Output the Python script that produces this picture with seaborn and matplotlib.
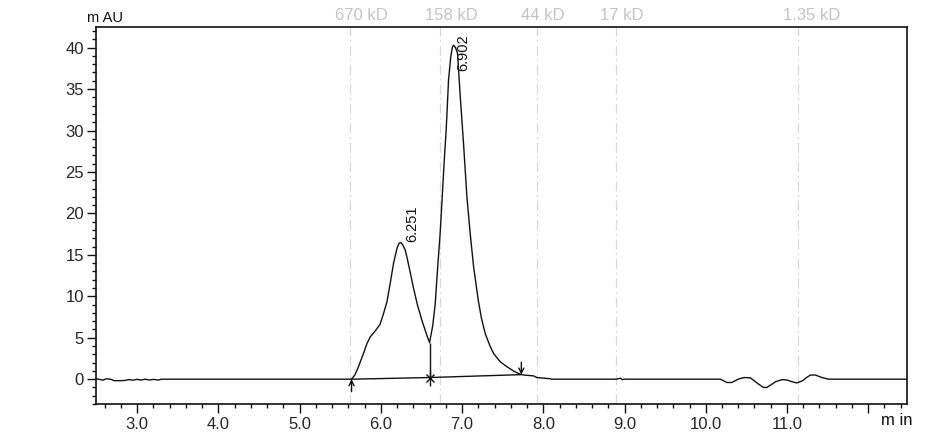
import numpy as np
import pandas as pd
import seaborn as sns
import matplotlib.pyplot as plt
from matplotlib.ticker import MultipleLocator
import matplotlib.transforms as mtransforms

# Cromatograma (tempo em min, sinal em mAU)
tempo = [2.50, 2.58, 2.62, 2.68, 2.72, 2.80, 2.85, 2.90, 2.95, 3.00, 3.05, 3.10,
         3.15, 3.20, 3.26, 3.30, 4.00, 5.00, 5.55, 5.64, 5.68, 5.725, 5.76, 5.79,
         5.83, 5.87, 5.93, 5.99, 6.03, 6.075, 6.12, 6.157, 6.20, 6.225, 6.245,
         6.27, 6.30, 6.32, 6.36, 6.40, 6.45, 6.506, 6.56, 6.60, 6.64, 6.67, 6.70,
         6.73, 6.748, 6.765, 6.785, 6.805, 6.834, 6.86, 6.88, 6.895, 6.92, 6.945,
         6.978, 7.018, 7.06, 7.10, 7.142, 7.20, 7.24, 7.286, 7.34, 7.388, 7.47,
         7.553, 7.64, 7.717, 7.76, 7.88, 7.92, 8.09, 8.10, 8.90, 8.95, 8.97, 9.00,
         10.18, 10.26, 10.32, 10.40, 10.47, 10.55, 10.63, 10.71, 10.75, 10.80,
         10.86, 10.94, 11.00, 11.06, 11.12, 11.19, 11.24, 11.29, 11.35, 11.43,
         11.51, 12.50]
sinal = [0.05, -0.12, 0.05, -0.02, -0.18, -0.18, -0.15, -0.05, -0.12, -0.02, -0.1, 0.0,
         -0.1, -0.02, -0.1, 0.0, 0.0, 0.0, 0.0, 0.0, 0.5, 1.5, 2.4, 3.2,
         4.3, 5.1, 5.8, 6.6, 7.8, 9.3, 11.8, 14.0, 15.8, 16.4, 16.5,
         16.2, 15.6, 14.8, 13.0, 11.1, 9.0, 7.1, 5.5, 4.4, 6.5, 9.1, 13.5,
         17.5, 20.6, 23.6, 27.0, 30.1, 36.1, 38.8, 40.0, 40.3, 40.0, 39.3,
         34.1, 28.5, 22.0, 17.6, 13.6, 9.5, 7.3, 5.5, 4.1, 3.1, 2.1,
         1.5, 0.95, 0.6, 0.5, 0.4, 0.2, 0.05, 0.0, 0.0, 0.12, -0.05, 0.0,
         0.0, -0.4, -0.4, 0.0, 0.2, 0.16, -0.45, -1.0, -1.0, -0.7,
         -0.3, -0.05, -0.1, -0.3, -0.45, -0.2, 0.2, 0.5, 0.5, 0.2,
         0.0, 0.0]

# Linha de base da integração
base_t = [5.64, 6.60, 7.73]
base_y = [0.0, 0.2, 0.55]

# Picos identificados
picos_t = [6.251, 6.902]
picos_rotulo = ['6.251', '6.902']
rotulo_x = [6.383, 7.015]
rotulo_y = [16.6, 37.2]

# Padrões de massa molecular
padroes_t = [5.62, 6.73, 7.92, 8.89, 11.14]
padroes_rotulo = ['670 kD', '158 kD', '44 kD', '17 kD', '1.35 kD']

dados = pd.DataFrame({'tempo': tempo, 'sinal': sinal})

sns.set_style('ticks')
plt.rcParams['font.family'] = ['Liberation Sans', 'DejaVu Sans']

fig = plt.figure(figsize=(9.47, 4.34), dpi=100)
ax = fig.add_axes([0.101, 0.069, 0.857, 0.869])

# Linhas dos padrões
for t, r in zip(padroes_t, padroes_rotulo):
    ax.axvline(t, color='#d9d9d9', lw=0.9, ls=(0, (8, 3, 1.5, 3)), zorder=0)
    ax.annotate(r, xy=(t, 1.0), xycoords=('data', 'axes fraction'),
                xytext=(-11, 3), textcoords='offset points',
                ha='left', va='bottom', fontsize=12, color='#c4c4c4')

sns.lineplot(data=dados, x='tempo', y='sinal', color='#111111', lw=1.0,
             ax=ax, sort=False, estimator=None)
sns.lineplot(x=base_t, y=base_y, color='#111111', lw=1.0, ax=ax,
             sort=False, estimator=None)

# Linha de queda no vale
vale = np.interp(base_t[1], tempo, sinal)
ax.vlines(base_t[1], base_y[1], vale, color='#111111', lw=1.0)
ax.plot([base_t[1]], [base_y[1]], marker='|', ms=12, mew=1.0, color='#111111')
ax.plot([base_t[1]], [base_y[1]], marker='x', ms=6, mew=1.0, color='#111111')

# Marcas de início e fim
ax.annotate('', xy=(base_t[0], base_y[0]), xytext=(0, -9), textcoords='offset points',
            arrowprops=dict(arrowstyle='->', lw=1.0, color='#111111',
                            shrinkA=0, shrinkB=0, mutation_scale=9))
ax.annotate('', xy=(base_t[2], base_y[2]), xytext=(0, 9), textcoords='offset points',
            arrowprops=dict(arrowstyle='->', lw=1.0, color='#111111',
                            shrinkA=0, shrinkB=0, mutation_scale=9))

for x, y, r in zip(rotulo_x, rotulo_y, picos_rotulo):
    ax.text(x, y, r, rotation=90, ha='center', va='bottom', fontsize=10.5,
            color='#111111')

ax.set_xlim(2.49, 12.48)
ax.set_ylim(-3, 42.5)
ax.xaxis.set_major_locator(MultipleLocator(1.0))
ax.xaxis.set_minor_locator(MultipleLocator(0.2))
ax.yaxis.set_major_locator(MultipleLocator(5))
ax.yaxis.set_minor_locator(MultipleLocator(1))
xt = np.arange(3, 13)
ax.set_xticks(xt)
ax.set_xticklabels([f'{v:.1f}' for v in xt[:-1]] + [''])
ax.tick_params(axis='both', which='major', direction='out', length=6.5, width=1.0,
               labelsize=12, color='#111111', pad=2)
ax.tick_params(axis='both', which='minor', direction='out', length=3.2, width=1.0,
               color='#111111')
ax.tick_params(axis='x', which='major', pad=3)
for s in ax.spines.values():
    s.set_visible(True)
    s.set_color('#111111')
    s.set_linewidth(1.2)

ax.set_xlabel('')
ax.set_ylabel('')
ax.text(-0.011, 1.005, 'm AU', transform=ax.transAxes, ha='left', va='bottom',
        fontsize=10.5, color='#111111')
trans = mtransforms.blended_transform_factory(ax.transData, ax.transAxes)
ax.text(12.35, -0.025, 'm in', transform=trans, ha='center', va='top',
        fontsize=12, color='#111111')

fig.savefig('out.png', dpi=100)
